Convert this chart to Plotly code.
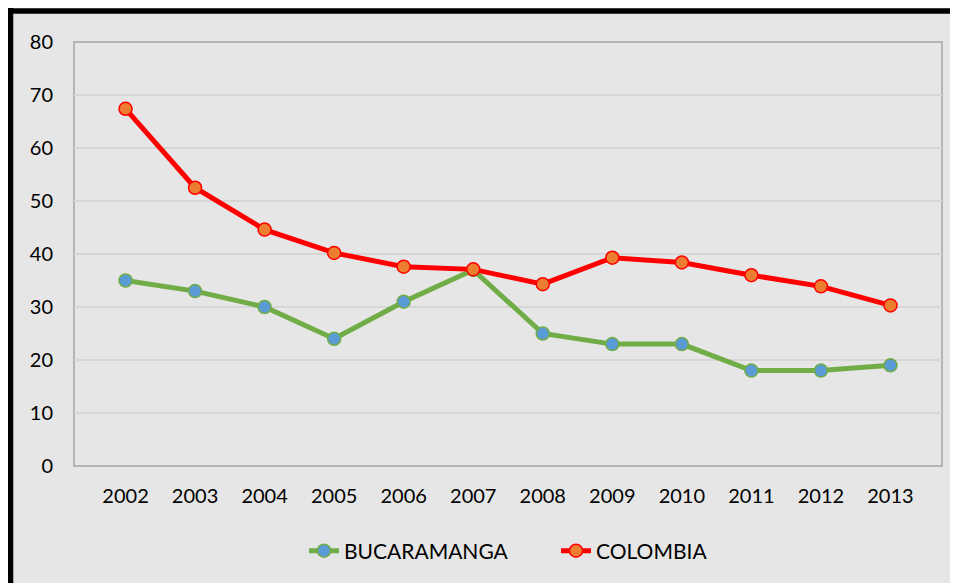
import plotly.graph_objects as go

years = ["2002", "2003", "2004", "2005", "2006", "2007", "2008", "2009", "2010", "2011", "2012", "2013"]
bucaramanga = [35, 33, 30, 24, 31, 37, 25, 23, 23, 18, 18, 19]
colombia = [67.4, 52.5, 44.6, 40.2, 37.6, 37.1, 34.3, 39.3, 38.4, 36.0, 33.9, 30.3]
y_ticks = [0, 10, 20, 30, 40, 50, 60, 70, 80]

W, H = 950, 575
L, R, T, B = 66, 16, 34, 117
pw, ph = W - L - R, H - T - B

def px_x(p):
    return (p - L) / pw

def px_y(p):
    return (H - B - p) / ph

font = dict(family="Lato, Calibri, Carlito, sans-serif", size=20, color="#000000")
lfont = dict(family="Lato, Calibri, Carlito, sans-serif", size=21, color="#000000")

fig = go.Figure()
fig.add_trace(go.Scatter(
    x=years, y=bucaramanga, name="BUCARAMANGA", mode="lines+markers",
    line=dict(color="#70ad47", width=5),
    marker=dict(size=13, color="#5b9bd5", line=dict(color="#70ad47", width=1.5)),
    legend="legend",
))
fig.add_trace(go.Scatter(
    x=years, y=colombia, name="COLOMBIA", mode="lines+markers",
    line=dict(color="#ff0000", width=5),
    marker=dict(size=13, color="#ed7d31", line=dict(color="#ff0000", width=1.5)),
    legend="legend2",
))

fig.update_layout(
    width=W, height=H,
    margin=dict(l=L, r=R, t=T, b=B),
    paper_bgcolor="#e6e6e6",
    plot_bgcolor="rgba(0,0,0,0)",
    font=font,
    showlegend=True,
    legend=dict(x=px_x(296), xanchor="left", y=px_y(543), yanchor="middle",
                font=lfont, bgcolor="rgba(0,0,0,0)"),
    legend2=dict(x=px_x(548), xanchor="left", y=px_y(543), yanchor="middle",
                 font=lfont, bgcolor="rgba(0,0,0,0)"),
    xaxis=dict(showgrid=False, showline=False, zeroline=False, ticks="",
               tickfont=font, ticklabelstandoff=16),
    yaxis=dict(range=[0, 80], tickvals=y_ticks, showgrid=True, gridcolor="#d6d6d6", gridwidth=1.5,
               zeroline=False, showline=False, ticks="", tickfont=font, ticklabelstandoff=20),
    shapes=[
        dict(type="line", xref="paper", yref="paper", layer="below",
             x0=px_x(2.5), x1=px_x(2.5), y0=px_y(H), y1=px_y(0),
             line=dict(color="#000000", width=5.5)),
        dict(type="line", xref="paper", yref="paper", layer="below",
             x0=px_x(0), x1=px_x(W), y0=px_y(3), y1=px_y(3),
             line=dict(color="#000000", width=5.5)),
        dict(type="rect", xref="paper", yref="paper", layer="below",
             x0=0, x1=1, y0=0, y1=1,
             fillcolor="rgba(0,0,0,0)", line=dict(color="#b4b4b4", width=2)),
    ],
)

fig.write_html("out.html")
